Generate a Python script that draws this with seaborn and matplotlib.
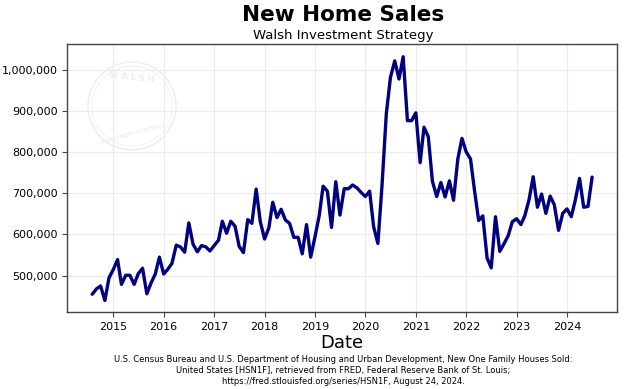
import pandas as pd
import numpy as np
import matplotlib.pyplot as plt
import matplotlib.dates as mdates
import matplotlib.ticker as mticker
from matplotlib.patches import Circle
import seaborn as sns

# New one family houses sold (SAAR, thousands), Aug 2014 - Jul 2024
start_month = "2014-08-01"
sales_2014 = [455, 468, 475, 440, 495]
sales_2015 = [515, 539, 479, 501, 501, 479, 505, 518, 456, 482, 504, 545]
sales_2016 = [504, 516, 530, 574, 570, 557, 628, 576, 558, 573, 570, 560]
sales_2017 = [573, 586, 632, 603, 632, 620, 571, 556, 636, 627, 710, 631]
sales_2018 = [589, 616, 678, 641, 661, 635, 627, 593, 593, 553, 624, 545]
sales_2019 = [594, 646, 717, 705, 617, 728, 647, 711, 711, 720, 713, 702]
sales_2020 = [692, 705, 619, 578, 720, 893, 981, 1021, 977, 1031, 876, 876]
sales_2021 = [895, 774, 860, 837, 729, 692, 726, 691, 730, 683, 783, 833]
sales_2022 = [800, 783, 709, 634, 645, 543, 519, 643, 559, 577, 597, 631]
sales_2023 = [638, 624, 645, 684, 740, 666, 698, 651, 693, 672, 610, 651]
sales_2024 = [662, 643, 683, 736, 666, 668, 739]

sales = (sales_2014 + sales_2015 + sales_2016 + sales_2017 + sales_2018 + sales_2019
         + sales_2020 + sales_2021 + sales_2022 + sales_2023 + sales_2024)
df = pd.DataFrame({
    "Date": pd.date_range(start_month, periods=len(sales), freq="MS"),
    "sales": np.array(sales) * 1000,
})

caption = ("U.S. Census Bureau and U.S. Department of Housing and Urban Development, New One Family Houses Sold:\n"
           "United States [HSN1F], retrieved from FRED, Federal Reserve Bank of St. Louis;\n"
           "https://fred.stlouisfed.org/series/HSN1F, August 24, 2024.")

sns.set_style("whitegrid", {"grid.color": "#ebebeb", "axes.edgecolor": "#444444",
                            "text.color": "black", "xtick.color": "black", "ytick.color": "black",
                            "axes.labelcolor": "black"})
plt.rcParams["font.family"] = ["DejaVu Sans"]

fig = plt.figure(figsize=(6.4, 3.89), dpi=100)
ax = fig.add_axes([0.105, 0.198, 0.859, 0.689])

# faint watermark logo
wm = "#efefef"
fig.patches.append(Circle((1.32, 2.83), 0.44, transform=fig.dpi_scale_trans,
                          fill=False, edgecolor=wm, lw=1.2, zorder=0))
fig.patches.append(Circle((1.32, 2.83), 0.40, transform=fig.dpi_scale_trans,
                          fill=False, edgecolor=wm, lw=0.6, zorder=0))
fig.text(1.32 / 6.4, 3.12 / 3.89, "W A L S H", ha="center", va="center",
         fontsize=6, color=wm, fontweight="bold", rotation=-5)
fig.text(1.32 / 6.4, 2.55 / 3.89, "INVESTMENT STRATEGY", ha="center", va="center",
         fontsize=3.5, color=wm, fontweight="bold", rotation=15)

sns.lineplot(data=df, x="Date", y="sales", ax=ax, color="#000080", linewidth=2.4, zorder=3)

ax.set_xlim(pd.Timestamp("2014-02-01"), pd.Timestamp("2024-12-28"))
ax.set_ylim(412000, 1062000)
ax.xaxis.set_major_locator(mdates.YearLocator())
ax.xaxis.set_major_formatter(mdates.DateFormatter("%Y"))
ax.yaxis.set_major_locator(mticker.MultipleLocator(100000))
ax.yaxis.set_major_formatter(mticker.FuncFormatter(lambda v, p: f"{int(v):,}"))
ax.tick_params(axis="both", labelsize=8, length=3.5, width=0.8, color="#444444",
               labelcolor="black", bottom=True, left=True)
ax.grid(True, color="#ebebeb", linewidth=0.8)
for s in ax.spines.values():
    s.set_color("#444444")
    s.set_linewidth(1.0)

ax.set_xlabel("Date", fontsize=13, color="black", labelpad=2)
ax.set_ylabel("")

fig.text(0.536, 0.962, "New Home Sales", ha="center", va="center", fontsize=15.5,
         fontweight="bold", color="black")
fig.text(0.536, 0.910, "Walsh Investment Strategy", ha="center", va="center", fontsize=9.5, color="black")
fig.text(0.536, 0.008, caption, ha="center", va="bottom", fontsize=6.0, linespacing=1.25, color="black")

fig.savefig("out.png", dpi=100)
